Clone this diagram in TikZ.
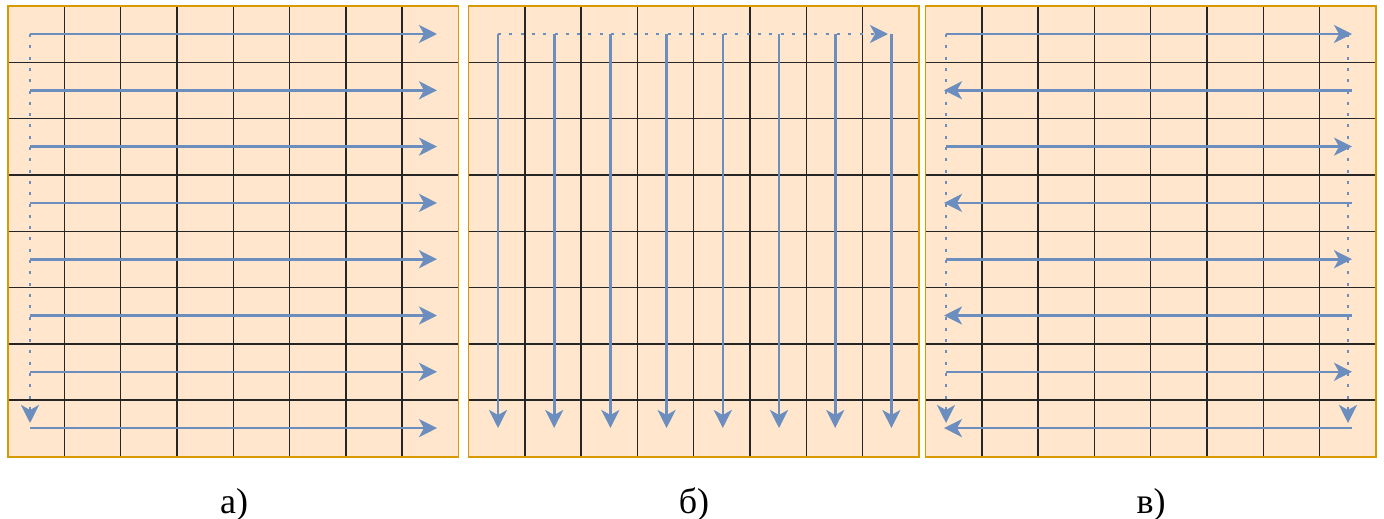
\documentclass[tikz,border=0pt]{standalone}
\usepackage{fontspec}
\setmainfont{Liberation Serif}
\usepackage{tikz}
\usetikzlibrary{arrows.meta}
\definecolor{cellfill}{HTML}{FFE6CC}
\definecolor{framecol}{HTML}{D79B00}
\definecolor{scanblue}{HTML}{6C8EBF}

\begin{document}
\begin{tikzpicture}[x=1pt, y=-1pt]
\def\cell{56.3}
\def\gtop{6}
\def\gsize{450.5}
% Styles
\tikzset{
    gridline/.style={black!85, line width=1.4pt},
    scan/.style={scanblue, line width=2.6pt,
        -{Stealth[length=18pt, width=18pt, inset=5pt]}},
    jump/.style={scan, dash pattern=on 3pt off 8.3pt},
    caption/.style={anchor=base, font=\fontsize{36}{40}\selectfont},
}
\useasboundingbox (0,0) rectangle (1384,519);
% Draw the three 8x8 grids
\foreach \x in {8, 468.5, 925.5}{
    \fill[cellfill] (\x,\gtop) rectangle ++(\gsize,451);
    \foreach \i in {1,...,7}{
        \draw[gridline] ({\x+\i*\cell},\gtop) -- ++(0,451);
        \draw[gridline] (\x,{\gtop+\i*\cell}) -- ++(\gsize,0);
    }
    \draw[framecol, line width=1.3pt] (\x,\gtop) rectangle ++(\gsize,451);
}
% a) row by row, same direction
\foreach \k in {0,...,7}{
    \draw[scan] (30,{34+\k*\cell}) -- (437,{34+\k*\cell});
}
\draw[jump] (30,34) -- (30,423);
% b) column by column
\foreach \k in {0,...,7}{
    \draw[scan] ({498+\k*56.2},34) -- ({498+\k*56.2},428);
}
\draw[jump] (498,34) -- (888,34);
% c) snake
\foreach \k in {0,2,4,6}{
    \draw[scan] (946,{34+\k*\cell}) -- (1352,{34+\k*\cell});
}
\foreach \k in {1,3,5,7}{
    \draw[scan] (1352,{34+\k*\cell}) -- (944,{34+\k*\cell});
}
\draw[jump] (1348,34) -- (1348,423);
\draw[jump] (946,34) -- (946,423);
% Captions
\node[caption] (labA) at (234,513) {а)};
\node[caption] (labB) at (694,513) {б)};
\node[caption] (labC) at (1151,513) {в)};
\end{tikzpicture}
\end{document}
